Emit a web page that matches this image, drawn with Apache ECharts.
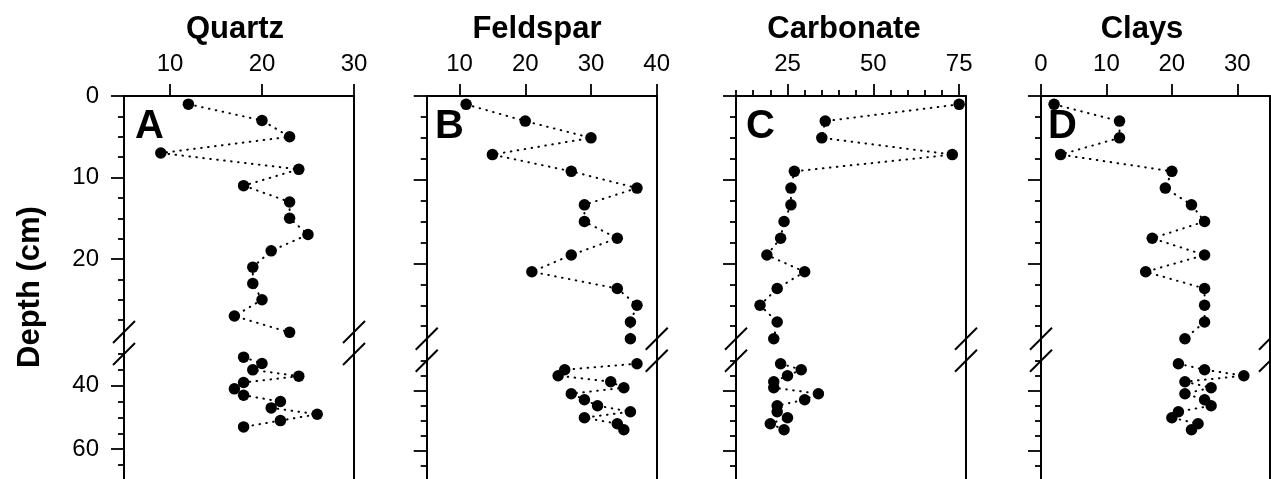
<!DOCTYPE html>
<html>
<head>
<meta charset="utf-8">
<title>Depth profiles</title>
<script src="https://cdn.jsdelivr.net/npm/echarts@6.0.0/dist/echarts.min.js"></script>
<style>
  html, body { margin: 0; padding: 0; background: #fff; }
  #chart { width: 1271px; height: 479px; }
</style>
</head>
<body>
<div id="chart"></div>
<script>
// ---- data ----
const depth = [1, 3, 5, 7, 9, 11, 13, 15, 17, 19, 21, 23, 25, 27, 29,
  31, 33, 35, 37, 39, 41, 43, 45, 47, 49, 51, 53]
const quartz = [12, 20, 23, 9, 24, 18, 23, 23, 25, 21, 19, 19, 20, 17, 23,
  18, 20, 19, 24, 18, 17, 18, 22, 21, 26, 22, 18]
const feldspar = [11, 20, 30, 15, 27, 37, 29, 29, 34, 27, 21, 34, 37, 36, 36,
  37, 26, 25, 33, 35, 27, 29, 31, 36, 29, 34, 35]
const carbonate = [75, 36, 35, 73, 27, 26, 26, 24, 23, 19, 30, 22, 17, 22, 21,
  23, 29, 25, 21, 21, 34, 30, 22, 22, 25, 20, 24]
const clays = [2, 12, 12, 3, 20, 19, 23, 25, 17, 25, 16, 25, 25, 25, 22,
  21, 25, 31, 22, 26, 22, 25, 26, 21, 20, 24, 23]

const titles = ['Quartz', 'Feldspar', 'Carbonate', 'Clays']
const letters = ['A', 'B', 'C', 'D']
const values = [quartz, feldspar, carbonate, clays]
const xRanges = [[5, 30], [5, 40], [10, 77], [0, 35]]
const xTicks = [[10, 20, 30], [10, 20, 30, 40], [25, 50, 75], [0, 10, 20, 30]]
const xMinorTicks = [[], [], [10, 15, 20, 30, 35, 40, 45, 55, 60, 65, 70], []]
const depthUpperTicks = [0, 10, 20]
const depthUpperMinor = [2.5, 5, 7.5, 12.5, 15, 17.5, 22.5, 25, 27.5]
const depthLowerTicks = [40, 60]
const depthLowerMinor = [30, 35, 45, 50, 55, 65, 70]
const breakDepth = 30

// ---- layout ----
const FONT = '"Liberation Sans", Arial, Helvetica, sans-serif'
const panelLeft = [124, 426.7, 736, 1041]
const panelWidth = [230, 230, 230, 229]
const layout = [
  { top: 96, upPx: 8.15, lowTop: 354, lowPx: 3.17, slash: [332, 354] },
  { top: 96, upPx: 8.37, lowTop: 360.7, lowPx: 3.0, slash: [338.7, 360.8] },
  { top: 96, upPx: 8.37, lowTop: 360.7, lowPx: 3.0, slash: [338.7, 360.8] },
  { top: 96, upPx: 8.37, lowTop: 360.7, lowPx: 3.0, slash: [338.7, 360.8] },
]
const titleX = [235, 537, 844, 1142]
const letterX = [135, 435, 746, 1048]

const black = '#000'
const grids = []
const xAxes = []
const yAxes = []
const series = []
const graphics = []

// axis lines must stay on the grid edges (onZero would pull them to x = 0 in panel D)
function lineAxis(extra) {
  return Object.assign({
    type: 'value',
    axisLine: { show: true, onZero: false, lineStyle: { color: black, width: 2 } },
    axisTick: { show: false },
    axisLabel: { show: false },
    splitLine: { show: false },
  }, extra)
}

function tickAxis(values, len, showLine, extra) {
  return lineAxis(Object.assign({
    axisLine: { show: showLine, onZero: false, lineStyle: { color: black, width: 2 } },
    axisTick: { show: true, inside: false, length: len, customValues: values, lineStyle: { color: black, width: 1.8 } },
  }, extra))
}

for (let p = 0; p < 4; p++) {
  const L = layout[p]
  const w = panelWidth[p]
  const upperMax = (L.lowTop - L.top) / L.upPx
  const gU = grids.length
  grids.push({ left: panelLeft[p], top: L.top, width: w, height: L.lowTop - L.top, outerBoundsMode: 'none' })
  const gL = grids.length
  grids.push({ left: panelLeft[p], top: L.lowTop, width: w, height: 40 * L.lowPx, outerBoundsMode: 'none' })

  const [xmin, xmax] = xRanges[p]
  // top x axis with labels
  const xU = xAxes.length
  xAxes.push(tickAxis(xTicks[p], 12, true, {
    gridIndex: gU, position: 'top', min: xmin, max: xmax,
    axisLabel: {
      show: true, customValues: xTicks[p], color: black, fontSize: 24,
      fontFamily: FONT, margin: 20, showMinLabel: true, showMaxLabel: true,
    },
  }))
  if (xMinorTicks[p].length) {
    xAxes.push(tickAxis(xMinorTicks[p], 6, false, { gridIndex: gU, position: 'top', min: xmin, max: xmax }))
  }
  const xL = xAxes.length
  xAxes.push({ type: 'value', gridIndex: gL, min: xmin, max: xmax, show: false })

  // upper depth axis
  const yU = yAxes.length
  yAxes.push(tickAxis(depthUpperTicks, 13, true, {
    gridIndex: gU, position: 'left', inverse: true, min: 0, max: upperMax,
    axisLabel: {
      show: p === 0, customValues: depthUpperTicks, color: black, fontSize: 24,
      fontFamily: FONT, margin: 25, showMinLabel: true,
    },
  }))
  yAxes.push(tickAxis(depthUpperMinor, 6, false, { gridIndex: gU, position: 'left', inverse: true, min: 0, max: upperMax }))
  yAxes.push(lineAxis({ gridIndex: gU, position: 'right', inverse: true, min: 0, max: upperMax }))

  // lower depth axis
  const yL = yAxes.length
  yAxes.push(tickAxis(depthLowerTicks, 13, true, {
    gridIndex: gL, position: 'left', inverse: true, min: breakDepth, max: 70,
    axisLabel: {
      show: p === 0, customValues: depthLowerTicks, color: black, fontSize: 24,
      fontFamily: FONT, margin: 25,
    },
  }))
  yAxes.push(tickAxis(depthLowerMinor, 6, false, { gridIndex: gL, position: 'left', inverse: true, min: breakDepth, max: 70 }))
  yAxes.push(lineAxis({ gridIndex: gL, position: 'right', inverse: true, min: breakDepth, max: 70 }))

  const pts = depth.map((d, i) => [values[p][i], d])
  const common = {
    type: 'line',
    symbol: 'circle',
    symbolSize: 11.5,
    showSymbol: true,
    silent: true,
    itemStyle: { color: black },
    lineStyle: { color: black, width: 2, type: [0.6, 6.4], cap: 'round' },
  }
  series.push(Object.assign({}, common, {
    name: titles[p] + ' upper', xAxisIndex: xU, yAxisIndex: yU,
    data: pts.filter((d) => d[1] < breakDepth),
  }))
  series.push(Object.assign({}, common, {
    name: titles[p] + ' lower', xAxisIndex: xL, yAxisIndex: yL,
    data: pts.filter((d) => d[1] > breakDepth),
  }))

  // panel title and letter
  graphics.push({
    type: 'text', x: titleX[p], y: 29,
    style: { text: titles[p], font: 'bold 31px ' + FONT, fill: black, align: 'center', verticalAlign: 'middle', textAlign: 'center', textVerticalAlign: 'middle' },
  })
  graphics.push({
    type: 'text', x: letterX[p], y: 127,
    style: { text: letters[p], font: 'bold 40px ' + FONT, fill: black, align: 'left', verticalAlign: 'middle', textAlign: 'left', textVerticalAlign: 'middle' },
  })

  // axis break marks on both sides
  for (const x of [panelLeft[p], panelLeft[p] + w]) {
    for (const y of L.slash) {
      graphics.push({
        type: 'line', z: 100,
        shape: { x1: x - 11, y1: y + 11, x2: x + 11, y2: y - 11 },
        style: { stroke: black, lineWidth: 2 },
      })
    }
  }
}

graphics.push({
  type: 'text', x: 30, y: 287, rotation: Math.PI / 2,
  style: { text: 'Depth (cm)', font: 'bold 31px ' + FONT, fill: black, align: 'center', verticalAlign: 'middle', textAlign: 'center', textVerticalAlign: 'middle' },
})

const chart = echarts.init(document.getElementById('chart'), null, { renderer: 'canvas' })
chart.setOption({
  backgroundColor: '#fff',
  animation: false,
  textStyle: { fontFamily: FONT },
  grid: grids,
  xAxis: xAxes,
  yAxis: yAxes,
  series,
  graphic: { elements: graphics },
})
</script>
</body>
</html>
